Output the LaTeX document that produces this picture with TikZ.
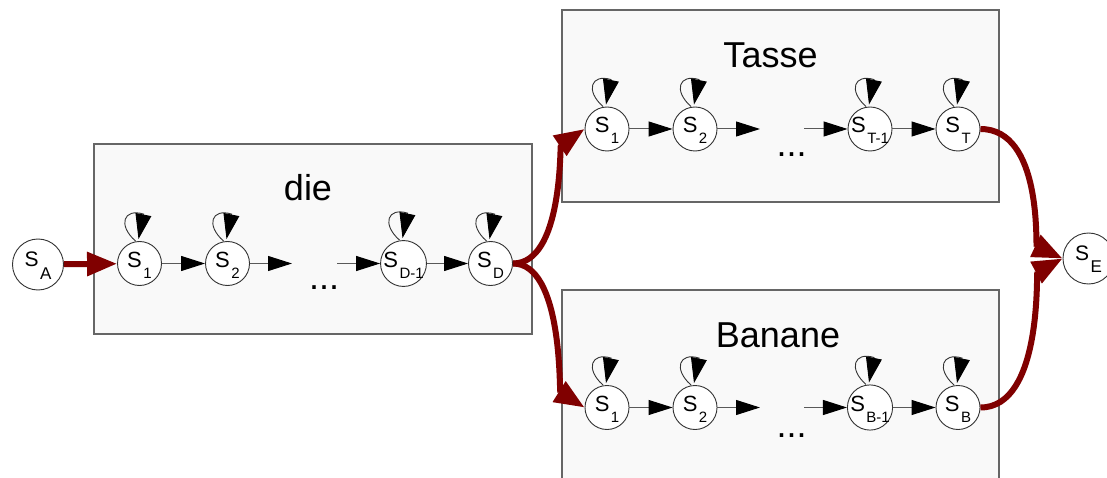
\documentclass[tikz,border=0pt]{standalone}
\usepackage{fontspec}
\setmainfont{Liberation Sans}
\usetikzlibrary{arrows.meta}

\definecolor{pathred}{HTML}{800000}
\definecolor{boxfill}{HTML}{F9F9F9}

% state labels: S with a lowered index
\newcommand{\stlab}[1]{S\kern1.5pt\raisebox{-11pt}{\fontsize{15}{15}\selectfont #1}}
\newcommand{\termlab}[1]{S\kern1.5pt\raisebox{-13pt}{\fontsize{17}{17}\selectfont #1}}
% self transition above a state
\newcommand{\selfloop}[1]{\draw[loopline] ([xshift=-4pt]#1.north) .. controls +(-18,16) and +(-20,6) .. ([shift={(4,27)}]#1.north) -- ([shift={(-1,2)}]#1.north);}

\tikzset{
  stnode/.style={circle, draw=black!80, fill=white, line width=0.9pt, minimum size=44pt, inner sep=0pt,
    text height=15pt, text depth=7pt, font=\fontsize{22}{22}\selectfont},
  termnode/.style={stnode, minimum size=51pt, text height=15pt, text depth=12pt, font=\fontsize{21}{21}\selectfont},
  wordbox/.style={draw=black!60, fill=boxfill, line width=1.1pt},
  wordlab/.style={anchor=base, font=\fontsize{36}{40}\selectfont},
  stepline/.style={draw=black!65, line width=1pt, -{Triangle[length=24pt,width=15pt,color=black]}},
  loopline/.style={draw=black!80, line width=0.9pt, -{Triangle[length=25pt,width=16pt,color=black]}},
  redpath/.style={draw=pathred, line width=6pt, -{Triangle[length=30pt,width=23pt]}}
}

\begin{document}
\begin{tikzpicture}[x=1pt,y=1pt]
	\clip (0,0) rectangle (1107,477);
	\fill[white] (0,0) rectangle (1107,477);

	\draw[wordbox] (94,143) rectangle (532,333);
	\draw[wordbox] (562,275) rectangle (999,467);
	\draw[wordbox] (562,-10) rectangle (999,187);

	\node[wordlab] (die) at (308,276) {die};
	\node[wordlab] (tasse) at (770.5,409) {Tasse};
	\node[wordlab] (banane) at (778,130) {Banane};

	\node[termnode] (sA) at (38,212.5) {\termlab{A}};
	\node[termnode] (sE) at (1088.5,218.5) {\termlab{E}};

	% die
	\node[stnode] (d1) at (139.5,213.5) {\stlab{1}};
	\node[stnode] (d2) at (227.5,213.5) {\stlab{2}};
	\node[stnode] (dD1) at (403.5,213.5) {\stlab{D-1}};
	\node[stnode] (dD) at (490.5,213.5) {\stlab{D}};
	\coordinate (d2r) at (292,213.5);
	\coordinate (dD1l) at (337,213.5);
	\node[wordlab] (ddots) at (324,188) {...};
	\draw[stepline] (d1) -- (d2);
	\draw[stepline] (d2) -- (d2r);
	\draw[stepline] (dD1l) -- (dD1);
	\draw[stepline] (dD1) -- (dD);

	% Tasse
	\node[stnode] (t1) at (607,348) {\stlab{1}};
	\node[stnode] (t2) at (695,348) {\stlab{2}};
	\node[stnode] (tT1) at (870,348) {\stlab{T-1}};
	\node[stnode] (tT) at (958,348) {\stlab{T}};
	\coordinate (t2r) at (760,348);
	\coordinate (tT1l) at (804,348);
	\node[wordlab] (tdots) at (791.5,320) {...};
	\draw[stepline] (t1) -- (t2);
	\draw[stepline] (t2) -- (t2r);
	\draw[stepline] (tT1l) -- (tT1);
	\draw[stepline] (tT1) -- (tT);

	% Banane
	\node[stnode] (b1) at (607,69.5) {\stlab{1}};
	\node[stnode] (b2) at (695,69.5) {\stlab{2}};
	\node[stnode] (bB1) at (870,69.5) {\stlab{B-1}};
	\node[stnode] (bB) at (958,69.5) {\stlab{B}};
	\coordinate (b2r) at (760,69.5);
	\coordinate (bB1l) at (804,69.5);
	\node[wordlab] (bdots) at (791.5,40) {...};
	\draw[stepline] (b1) -- (b2);
	\draw[stepline] (b2) -- (b2r);
	\draw[stepline] (bB1l) -- (bB1);
	\draw[stepline] (bB1) -- (bB);

	\selfloop{d1} \selfloop{d2} \selfloop{dD1} \selfloop{dD}
	\selfloop{t1} \selfloop{t2} \selfloop{tT1} \selfloop{tT}
	\selfloop{b1} \selfloop{b2} \selfloop{bB1} \selfloop{bB}

	\draw[redpath] (sA) -- (d1);
	\draw[redpath] (dD.east) .. controls +(50,0) and +(214:30) .. (t1.west);
	\draw[redpath] (dD.east) .. controls +(50,0) and +(148:30) .. (b1.west);
	\draw[redpath] (tT.east) .. controls +(62,0) and +(155:30) .. (sE.west);
	\draw[redpath] (bB.east) .. controls +(62,0) and +(208:30) .. (sE.west);
\end{tikzpicture}
\end{document}
